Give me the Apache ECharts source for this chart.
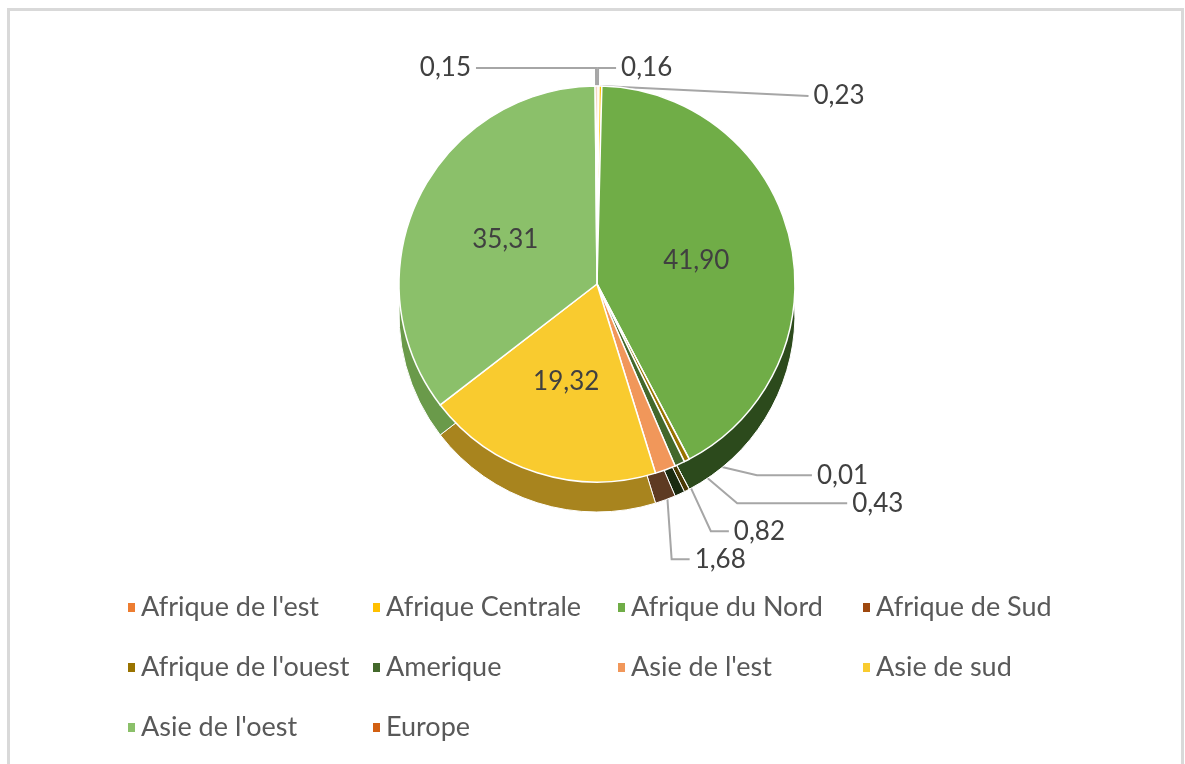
<!DOCTYPE html>
<html>
<head>
<meta charset="utf-8">
<script src="https://cdn.jsdelivr.net/npm/echarts@6/dist/echarts.min.js"></script>
<style>
  html, body { margin: 0; padding: 0; background: #fff; overflow: hidden; }
  #frame {
    position: absolute; left: 7px; top: 8px; width: 1171px; height: 800px;
    border: 3px solid #d9d9d9; pointer-events: none;
  }
  #chart { position: absolute; left: 0; top: 0; width: 1185px; height: 764px; }
</style>
</head>
<body>
<div id="chart"></div>
<div id="frame"></div>
<script>
// régions (ordre de la légende / des secteurs)
const regions = [
  "Afrique de l'est", 'Afrique Centrale', 'Afrique du Nord', 'Afrique de Sud',
  "Afrique de l'ouest", 'Amerique', "Asie de l'est", 'Asie de sud',
  "Asie de l'oest", 'Europe'
]
// parts en %
const shares = [0.16, 0.23, 41.90, 0.01, 0.43, 0.82, 1.68, 19.32, 35.31, 0.15]
const topColors = ['#ED7D31', '#FFC000', '#70AD47', '#9E480E', '#997300',
  '#43682B', '#F1975A', '#F9CB2F', '#8BC06A', '#D26012']
const sideColors = ['#8A4A1E', '#9A7A10', '#2C4A1C', '#5A2A08', '#4A3A05',
  '#1A2A10', '#5E3A22', '#A8841E', '#6A9A4A', '#7A3A0C']
// gros secteurs : étiquette à l'intérieur
const insideLabels = ['Afrique du Nord', 'Asie de sud', "Asie de l'oest"]
// longueur du 2e segment des traits de rappel
const leaderLen = [18, 110, 18, 55, 110, 18, 18, 18, 18, 120]

const font = 'Lato, "Liberation Sans", sans-serif'
const chart = echarts.init(document.getElementById('chart'))

const fmt = p => p.value.toFixed(2).replace('.', ',')

const option = {
  animation: false,
  legend: {
    left: 121,
    top: 574,
    width: 1000,
    icon: 'rect',
    itemWidth: 9,
    itemHeight: 11,
    itemGap: 3,
    selectedMode: false,
    textStyle: { fontFamily: font, fontSize: 27, color: '#595959', width: 227, lineHeight: 57 },
    data: regions.map((n, i) => ({ name: n, itemStyle: { color: topColors[i] } }))
  },
  series: [
    {
      // épaisseur du disque
      type: 'pie',
      silent: true,
      center: [597, 314],
      radius: 198,
      startAngle: 90,
      label: { show: false },
      labelLine: { show: false },
      itemStyle: { borderColor: '#fff', borderWidth: 1 },
      data: regions.map((n, i) => ({ name: n, value: shares[i], itemStyle: { color: sideColors[i] } }))
    },
    {
      type: 'pie',
      center: [597, 284],
      radius: 198,
      startAngle: 90,
      minShowLabelAngle: 0,
      itemStyle: { borderColor: '#fff', borderWidth: 1.5 },
      label: {
        formatter: fmt,
        fontFamily: font,
        fontSize: 26,
        color: '#404040'
      },
      labelLine: {
        length: 18,
        length2: 30,
        lineStyle: { color: '#A6A6A6', width: 2 }
      },
      data: regions.map((n, i) => ({
        name: n,
        value: shares[i],
        itemStyle: { color: topColors[i] },
        label: insideLabels.includes(n) ? { position: 'inside' } : { position: 'outside' },
        labelLine: { length2: leaderLen[i] }
      }))
    }
  ]
}

chart.setOption(option)
</script>
</body>
</html>
